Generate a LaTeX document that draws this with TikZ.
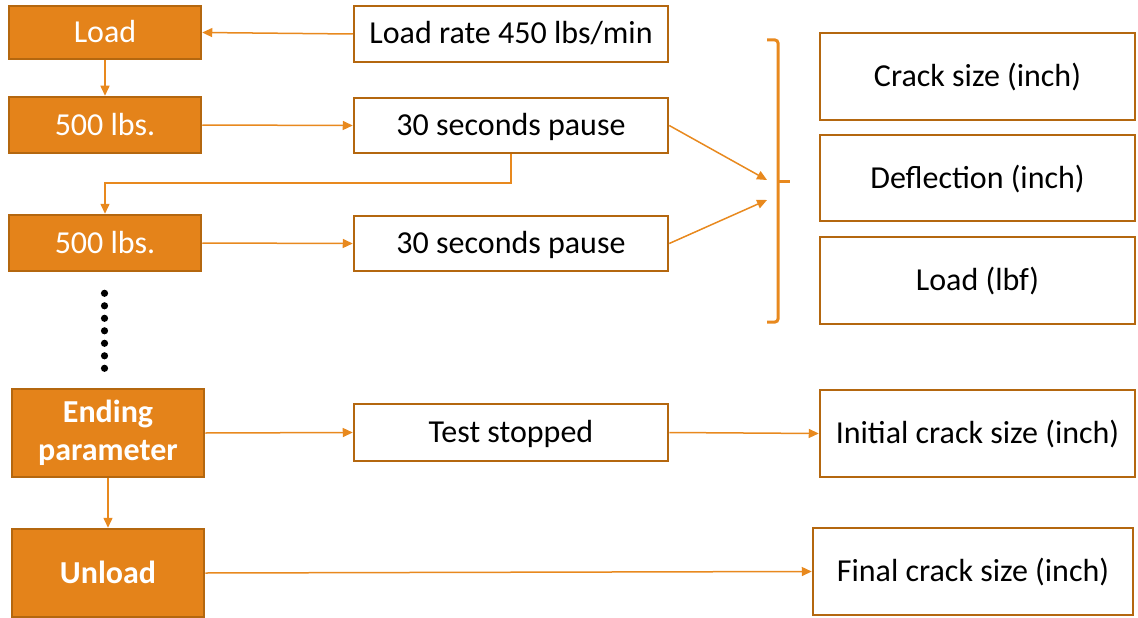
\documentclass[tikz,border=0pt]{standalone}
\usepackage{fontspec}
\setmainfont{Carlito}
\usetikzlibrary{arrows.meta}
\definecolor{ofill}{HTML}{E4831A}
\definecolor{odraw}{HTML}{B4670F}
\definecolor{oline}{HTML}{E8891E}
\begin{document}
\begin{tikzpicture}[x=1pt,y=-1pt,
  base/.style={rectangle,inner sep=0pt,line width=2.5pt,draw=odraw,align=center,
    font=\fontsize{32}{38}\selectfont},
  txt/.style={text height=20pt,text depth=0pt},
  obox/.style={base,fill=ofill,text=white},
  wbox/.style={base,fill=white,text=black},
  conn/.style={draw=oline,line width=1.5pt,-{Triangle[length=10pt,width=9pt]}},
  bracestyle/.style={draw=oline,line width=3pt,rounded corners=3pt},
  dotstyle/.style={fill=black,draw=none}
]
\useasboundingbox (0,0) rectangle (1138,618);

% left column
\node[obox,txt,minimum width=192pt,minimum height=53pt] (load) at (105,32.5) {Load};
\node[obox,txt,minimum width=192pt,minimum height=56pt] (lbsA) at (105,125) {500 lbs.};
\node[obox,txt,minimum width=192pt,minimum height=56pt] (lbsB) at (105,243) {500 lbs.};
\node[obox,minimum width=192pt,minimum height=88pt] (ending) at (108,433) {\bfseries Ending\\\bfseries parameter};
\node[obox,txt,minimum width=192pt,minimum height=88pt] (unload) at (108,573) {\bfseries Unload};

% middle column
\node[wbox,txt,minimum width=314pt,minimum height=56pt] (rate) at (511,34) {Load rate 450 lbs/min};
\node[wbox,txt,minimum width=314pt,minimum height=55pt] (pauseA) at (511,125.5) {30 seconds pause};
\node[wbox,txt,minimum width=314pt,minimum height=55pt] (pauseB) at (511,243.5) {30 seconds pause};
\node[wbox,txt,minimum width=314pt,minimum height=57pt] (stopped) at (511,432.5) {Test stopped};

% right column
\node[wbox,txt,minimum width=315pt,minimum height=87pt] (crack) at (977.5,76.5) {Crack size (inch)};
\node[wbox,txt,minimum width=315pt,minimum height=86pt] (defl) at (977.5,178) {Deflection (inch)};
\node[wbox,txt,minimum width=315pt,minimum height=87pt] (lbf) at (977.5,280.5) {Load (lbf)};
\node[wbox,txt,minimum width=315pt,minimum height=87pt] (initial) at (977.5,433.5) {Initial crack size (inch)};
\node[wbox,txt,minimum width=320pt,minimum height=87pt] (final) at (973,571.5) {Final crack size (inch)};

% brace
\coordinate (bA) at (767,180);
\coordinate (bB) at (767,200);
\draw[bracestyle] (767,40) -- (778,40) -- (778,322) -- (767,322);
\draw[draw=oline,line width=3pt] (778,181) -- (790,181);

% connectors
\draw[conn] (rate.west) -- (load.east);
\draw[conn] (load.south) -- (lbsA.north);
\draw[conn] (lbsA.east) -- (pauseA.west);
\draw[conn] (pauseA.south) -- (pauseA.south |- 0,183) -| (lbsB.north);
\draw[conn] (lbsB.east) -- (pauseB.west);
\draw[conn] (pauseA.east) -- (bA);
\draw[conn] (pauseB.east) -- (bB);
\draw[conn] (ending.east) -- (stopped.west);
\draw[conn] (stopped.east) -- (initial.west);
\draw[conn] (ending.south) -- (unload.north);
\draw[conn] (unload.east) -- (final.west);

% dots
\foreach \i in {0,...,6} {
  \fill[dotstyle] (104.5,293.3+12.5*\i) circle (3.6pt);
}
\end{tikzpicture}
\end{document}
